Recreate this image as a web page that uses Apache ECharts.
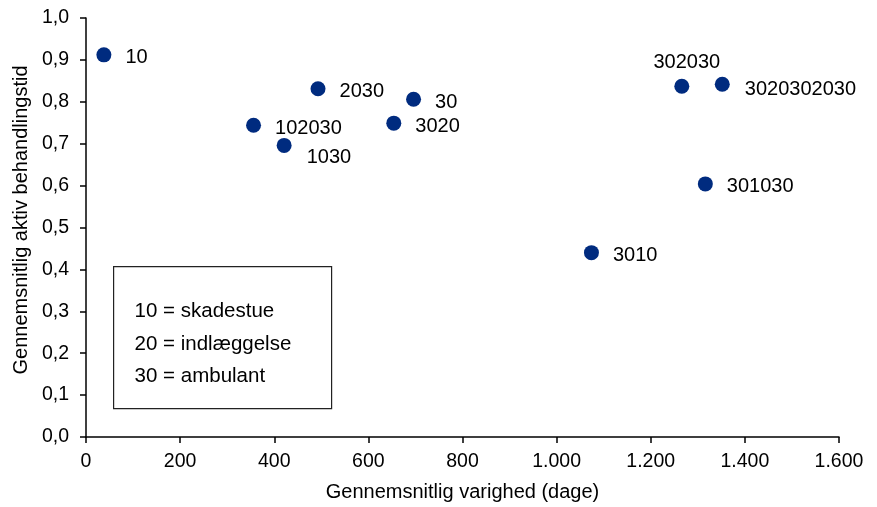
<!DOCTYPE html>
<html>
<head>
<meta charset="utf-8">
<script src="https://cdn.jsdelivr.net/npm/echarts@6/dist/echarts.min.js"></script>
<style>
  html, body { margin: 0; padding: 0; background: #fff; }
  #chart { width: 877px; height: 507px; }
</style>
</head>
<body>
<div id="chart"></div>
<script>
// Patient pathways: average duration (days) vs. average share of active treatment time
const pathways = ['10', '102030', '1030', '2030', '30', '3020', '3010', '302030', '3020302030', '301030'];
const durationDays = [38, 356, 421, 493, 696, 654, 1074, 1266, 1352, 1316];
const activeShare = [0.912, 0.744, 0.696, 0.831, 0.806, 0.749, 0.440, 0.837, 0.842, 0.604];

const legendLines = ['10 = skadestue', '20 = indlæggelse', '30 = ambulant'];
const xAxisName = 'Gennemsnitlig varighed (dage)';
const yAxisName = 'Gennemsnitlig aktiv behandlingstid';

const FONT = '"Liberation Sans", Arial, sans-serif';
const INK = '#000';

// Per-point label placement tweaks
const labelPlacement = {
  '1030': { position: 'right', offset: [1, 12] },
  '302030': { position: 'top', distance: 8, offset: [5, 2] },
  '3020302030': { position: 'right', offset: [1, 5] }
};

const points = pathways.map((name, i) => {
  const p = { name: name, value: [durationDays[i], activeShare[i]] };
  if (labelPlacement[name]) p.label = labelPlacement[name];
  return p;
});

const chart = echarts.init(document.getElementById('chart'), null, { renderer: 'canvas' });

const legendTop = 311;
const legendStep = 32.6;

chart.setOption({
  animation: false,
  backgroundColor: '#fff',
  textStyle: { fontFamily: FONT, color: INK },
  grid: { left: 86, right: 38, top: 18, bottom: 70, containLabel: false, outerBoundsMode: 'none' },
  xAxis: {
    type: 'value',
    min: 0, max: 1600, interval: 200,
    name: xAxisName,
    nameLocation: 'middle',
    nameGap: 45,
    nameTextStyle: { fontFamily: FONT, fontSize: 20, color: INK },
    axisLine: { show: true, lineStyle: { color: INK, width: 1.5 } },
    axisTick: { show: true, inside: false, length: 6, lineStyle: { color: INK, width: 1.5 } },
    axisLabel: {
      fontFamily: FONT, fontSize: 19.5, color: INK, margin: 15,
      formatter: v => v.toLocaleString('de-DE')
    },
    splitLine: { show: false }
  },
  yAxis: {
    type: 'value',
    min: 0, max: 1, interval: 0.1,
    name: yAxisName,
    nameLocation: 'middle',
    nameGap: 54,
    nameRotate: 90,
    nameTextStyle: { fontFamily: FONT, fontSize: 20, color: INK, padding: [0, 0, 0, 15] },
    axisLine: { show: true, lineStyle: { color: INK, width: 1.5 } },
    axisTick: { show: true, inside: false, length: 6, lineStyle: { color: INK, width: 1.5 } },
    axisLabel: {
      fontFamily: FONT, fontSize: 19.5, color: INK, margin: 17,
      formatter: v => v.toFixed(1).replace('.', ',')
    },
    splitLine: { show: false }
  },
  graphic: [{
    type: 'group',
    left: 113, top: 266,
    children: [
      {
        type: 'rect',
        shape: { x: 0, y: 0, width: 218, height: 142 },
        style: { fill: '#fff', stroke: '#222', lineWidth: 1.2 }
      }
    ].concat(legendLines.map((t, i) => ({
      type: 'text',
      x: 21,
      y: legendTop - 266 + i * legendStep,
      style: {
        text: t, fill: INK, font: '20.5px ' + FONT,
        textVerticalAlign: 'middle', textAlign: 'left'
      }
    })))
  }],
  series: [{
    type: 'scatter',
    symbol: 'circle',
    symbolSize: 15,
    itemStyle: { color: '#002B7F', opacity: 1 },
    label: {
      show: true,
      position: 'right',
      distance: 14,
      offset: [0, 3],
      formatter: p => p.name,
      fontFamily: FONT, fontSize: 20, color: INK
    },
    data: points
  }]
});
</script>
</body>
</html>
